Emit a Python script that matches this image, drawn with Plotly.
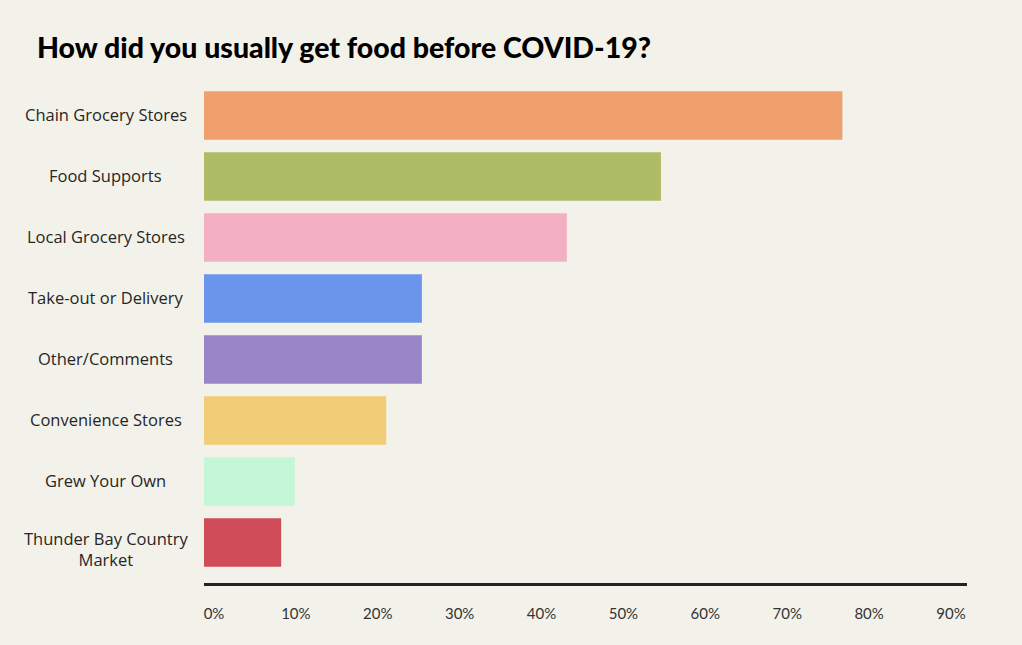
import plotly.graph_objects as go

categories = ["Chain Grocery Stores", "Food Supports", "Local Grocery Stores",
              "Take-out or Delivery", "Other/Comments", "Convenience Stores",
              "Grew Your Own", "Thunder Bay Country<br>Market"]
values = [75.3, 53.9, 42.8, 25.7, 25.7, 21.5, 10.7, 9.1]
colors = ["#F19F6D", "#AFBC66", "#F3B0C2", "#6A95EA", "#9886C9",
          "#F0CD76", "#C3F7D5", "#CF4C58"]
tick_vals = [0, 10, 20, 30, 40, 50, 60, 70, 80, 90]
tick_text = ["0%", "10%", "20%", "30%", "40%", "50%", "60%", "70%", "80%", "90%"]
title_text = "How did you usually get food before COVID-19?"

W, H = 1022, 645
L, R, T, B = 204, 55, 85, 62
plot_w = W - L - R

bg = "#F3F2EA"
n = len(categories)
idx = list(range(n))  # 0 = top

fig = go.Figure()
fig.add_trace(go.Bar(
    x=values, y=idx, orientation="h",
    marker=dict(color=colors, line=dict(width=0)),
    width=0.795, hoverinfo="skip", showlegend=False,
))
# invisible trace that carries the tick-label axis
fig.add_trace(go.Scatter(x=[0], y=[0], xaxis="x2", mode="markers",
                         marker=dict(opacity=0), hoverinfo="skip", showlegend=False))

# category labels, centred in the left column, positioned on the y scale
for i, c in zip(idx, categories):
    fig.add_annotation(
        x=(105.5 - L) / plot_w, xref="paper", y=i, yref="y",
        text=c, showarrow=False, xanchor="center", yanchor="middle",
        align="center",
        font=dict(family="Open Sans", size=16.5, color="#262626"),
        yshift=(-6 if "<br>" in c else 1),
    )

# label axis range so labels sit justified like the reference
px_per = (951 - 214) / 90.0
r0 = -(214 - 204) / px_per
r1 = 90 + (967 - 951) / px_per

fig.update_layout(
    width=W, height=H,
    margin=dict(l=L, r=R, t=T, b=B),
    paper_bgcolor=bg, plot_bgcolor=bg,
    title=dict(text=title_text, x=37 / W, xanchor="left",
               y=1 - 48 / H, yanchor="middle",
               font=dict(family="Lato", size=28.5, weight=900, color="#000000")),
    xaxis=dict(range=[0, 90], showgrid=False, zeroline=False, showticklabels=False,
               showline=True, linecolor="#222222", linewidth=2.5, ticks="",
               fixedrange=True),
    xaxis2=dict(overlaying="x", side="bottom", range=[r0, r1], tickvals=tick_vals,
                ticktext=tick_text, showgrid=False, zeroline=False, showline=False,
                ticks="", ticklabelstandoff=20,
                tickfont=dict(family="Lato", size=15, color="#333333")),
    yaxis=dict(range=[n - 1 + 0.5 + 0.164, -0.5], showgrid=False, zeroline=False,
               showticklabels=False, ticks="", showline=False, fixedrange=True),
    bargap=0.2,
)

fig.write_html("out.html")
